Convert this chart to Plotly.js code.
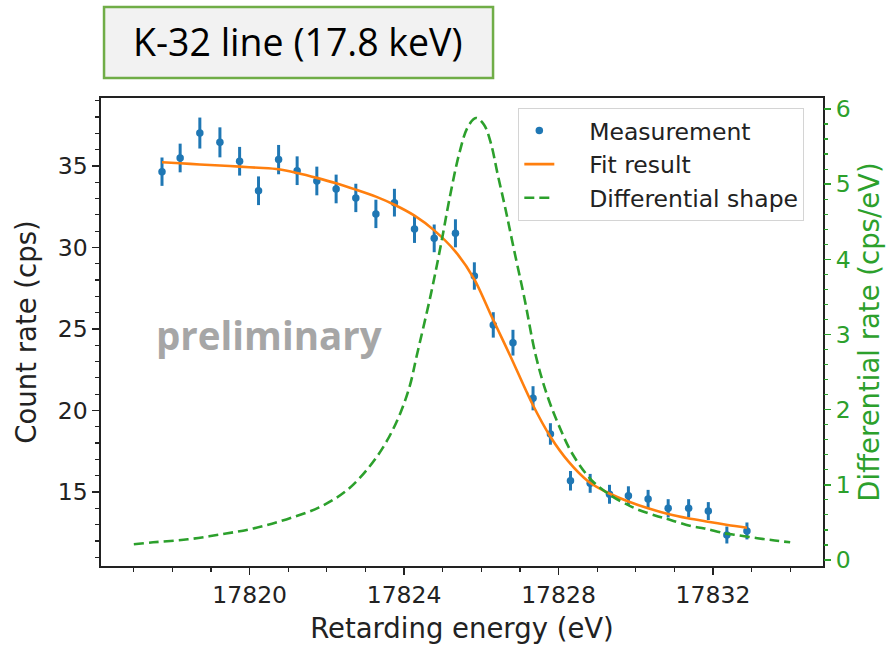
<!DOCTYPE html>
<html>
<head>
<meta charset="utf-8">
<script src="https://cdn.plot.ly/plotly-3.0.1.min.js"></script>
<style>html,body{margin:0;padding:0;background:#fff;}#chart{width:889px;height:646px;}</style>
</head>
<body>
<div id="chart"></div>
<script>
// Measurement points (retarding energy in eV, count rate in cps, 1-sigma error)
const measEnergy = [17817.73, 17818.20, 17818.71, 17819.23, 17819.74, 17820.23, 17820.75, 17821.23,
  17821.74, 17822.24, 17822.75, 17823.27, 17823.75, 17824.27, 17824.78, 17825.33, 17825.82, 17826.31,
  17826.82, 17827.34, 17827.79, 17828.31, 17828.82, 17829.32, 17829.81, 17830.32, 17830.84, 17831.37,
  17831.88, 17832.36, 17832.88];
const measRate = [34.65, 35.49, 37.02, 36.45, 35.29, 33.48, 35.39, 34.71, 34.08, 33.59, 33.04, 32.06,
  32.75, 31.13, 30.56, 30.87, 28.25, 25.25, 24.16, 20.75, 18.56, 15.69, 15.53, 14.86, 14.77, 14.57,
  14.00, 14.00, 13.83, 12.36, 12.61];
const measErr = [0.87, 0.88, 0.95, 0.92, 0.88, 0.88, 0.90, 0.88, 0.88, 0.88, 0.87, 0.87, 0.85, 0.85,
  0.85, 0.86, 0.84, 0.78, 0.79, 0.74, 0.66, 0.60, 0.58, 0.58, 0.58, 0.56, 0.56, 0.56, 0.55, 0.52, 0.52];

// Fit result curve
const fitEnergy = [17817.73, 17818.20, 17818.71, 17819.23, 17819.74, 17820.23, 17820.75, 17821.23,
  17821.74, 17822.24, 17822.75, 17823.27, 17823.75, 17824.27, 17824.78, 17825.33, 17825.82, 17826.28,
  17826.76, 17827.31, 17827.79, 17828.26, 17828.78, 17829.29, 17829.81, 17830.32, 17830.84, 17831.35,
  17831.87, 17832.38, 17832.88];
const fitRate = [35.23, 35.17, 35.09, 35.03, 34.96, 34.89, 34.80, 34.57, 34.27, 33.94, 33.55, 33.12,
  32.62, 31.95, 31.05, 29.75, 28.05, 25.70, 23.30, 20.46, 18.39, 16.86, 15.63, 14.94, 14.42, 14.00,
  13.65, 13.39, 13.18, 12.98, 12.81];

// Differential shape (cps/eV) on the right axis
const diffEnergy = [17817.0, 17817.5, 17818.4, 17819.25, 17820.1, 17820.95, 17821.8, 17822.5, 17823.1,
  17823.55, 17823.9, 17824.15, 17824.32, 17824.7, 17824.96, 17825.17, 17825.43, 17825.65, 17825.86,
  17826.07, 17826.25, 17826.42, 17826.63, 17826.85, 17827.11, 17827.41, 17827.7, 17828.0, 17828.35,
  17828.86, 17829.38, 17829.81, 17830.06, 17830.58, 17830.92, 17831.44, 17831.78, 17832.3, 17832.64,
  17833.15, 17833.6, 17834.0];
const diffRate = [0.21, 0.235, 0.275, 0.34, 0.42, 0.54, 0.70, 0.92, 1.24, 1.58, 1.95, 2.32, 2.70, 3.55,
  4.21, 4.79, 5.41, 5.76, 5.88, 5.79, 5.54, 5.14, 4.66, 4.12, 3.50, 2.72, 2.20, 1.80, 1.42, 1.06, 0.85,
  0.73, 0.67, 0.58, 0.53, 0.45, 0.42, 0.355, 0.33, 0.29, 0.26, 0.235];

const xTicks = [17820, 17824, 17828, 17832];
const yTicks = [15, 20, 25, 30, 35];
const y2Ticks = [0, 1, 2, 3, 4, 5, 6];
const legendNames = ['Measurement', 'Fit result', 'Differential shape'];

const FONT = 'DejaVu Sans';
const tickFont = {family: FONT, size: 23.5, color: '#222'};
const titleFont = {family: FONT, size: 27.5, color: '#222'};
const green = '#2ca02c';
const pad = '\u00A0\u00A0\u00A0\u00A0';

const traces = [
  {
    x: measEnergy, y: measRate, type: 'scatter', mode: 'markers', name: pad + legendNames[0],
    marker: {color: '#1f77b4', size: 7.5},
    error_y: {type: 'data', array: measErr, visible: true, color: '#1f77b4', thickness: 3, width: 0}
  },
  {
    x: fitEnergy, y: fitRate, type: 'scatter', mode: 'lines', name: pad + legendNames[1],
    line: {color: '#ff7f0e', width: 2.6, shape: 'spline', smoothing: 0.8}
  },
  {
    x: diffEnergy, y: diffRate, type: 'scatter', mode: 'lines', name: pad + legendNames[2], yaxis: 'y2',
    line: {color: green, width: 2.6, dash: '10px,5px', shape: 'spline', smoothing: 1.0}
  }
];

const layout = {
  width: 889, height: 646,
  margin: {l: 101, r: 66, t: 98, b: 80},
  paper_bgcolor: '#fff', plot_bgcolor: '#fff',
  showlegend: true,
  legend: {
    x: 0.578, y: 0.979, xanchor: 'left', yanchor: 'top',
    bgcolor: 'rgba(255,255,255,0.85)', bordercolor: '#d4d4d4', borderwidth: 1,
    font: {family: FONT, size: 23.5, color: '#222'},
    tracegroupgap: 0
  },
  xaxis: {
    range: [17816.15, 17834.85], tickvals: xTicks, ticktext: xTicks.map(String),
    ticks: 'outside', ticklen: 7, tickwidth: 1.5, tickcolor: '#222',
    showline: true, linecolor: '#222', linewidth: 1.6, mirror: true,
    showgrid: false, zeroline: false, tickfont: tickFont,
    minor: {dtick: 1, tick0: 17816, ticks: 'outside', ticklen: 4, tickwidth: 1.2, tickcolor: '#222', showgrid: false},
    title: {text: 'Retarding energy (eV)', font: titleFont, standoff: 11}
  },
  yaxis: {
    range: [10.46, 39.17], tickvals: yTicks, ticktext: yTicks.map(String),
    ticks: 'outside', ticklen: 7, tickwidth: 1.5, tickcolor: '#222',
    showline: true, linecolor: '#222', linewidth: 1.6, mirror: true,
    showgrid: false, zeroline: false, tickfont: tickFont,
    minor: {dtick: 1, tick0: 10, ticks: 'outside', ticklen: 4, tickwidth: 1.2, tickcolor: '#222', showgrid: false},
    title: {text: 'Count rate (cps)', font: titleFont, standoff: 13}
  },
  yaxis2: {
    overlaying: 'y', side: 'right', anchor: 'x',
    range: [-0.08, 6.146], tickvals: y2Ticks, ticktext: y2Ticks.map(String),
    ticks: 'outside', ticklen: 7, tickwidth: 1.5, tickcolor: green,
    showline: false, showgrid: false, zeroline: false,
    tickfont: {family: FONT, size: 23.5, color: green},
    minor: {dtick: 0.2, tick0: 0, ticks: 'outside', ticklen: 4, tickwidth: 1.2, tickcolor: green, showgrid: false},
    title: {text: 'Differential rate (cps/eV)', font: {family: FONT, size: 27.5, color: green}, standoff: 10}
  },
  shapes: [
    {type: 'rect', xref: 'paper', yref: 'paper', x0: 0.0042, x1: 0.543, y0: 1.0427, y1: 1.1944,
     fillcolor: '#f2f2f2', line: {color: '#70ad47', width: 2.5}, layer: 'below'}
  ],
  annotations: [
    {text: 'K-32 line (17.8 keV)', xref: 'paper', yref: 'paper', x: 0.2735, y: 1.1197,
     xanchor: 'center', yanchor: 'middle', showarrow: false,
     font: {family: 'Open Sans', size: 37.5, color: '#000'}},
    {text: '<b>preliminary</b>', xref: 'paper', yref: 'paper', x: 0.2327, y: 0.4936,
     xanchor: 'center', yanchor: 'middle', showarrow: false,
     font: {family: 'Open Sans', size: 38.5, color: '#a6a6a6'}}
  ]
};

Plotly.newPlot('chart', traces, layout, {displayModeBar: false, staticPlot: true});
</script>
</body>
</html>
